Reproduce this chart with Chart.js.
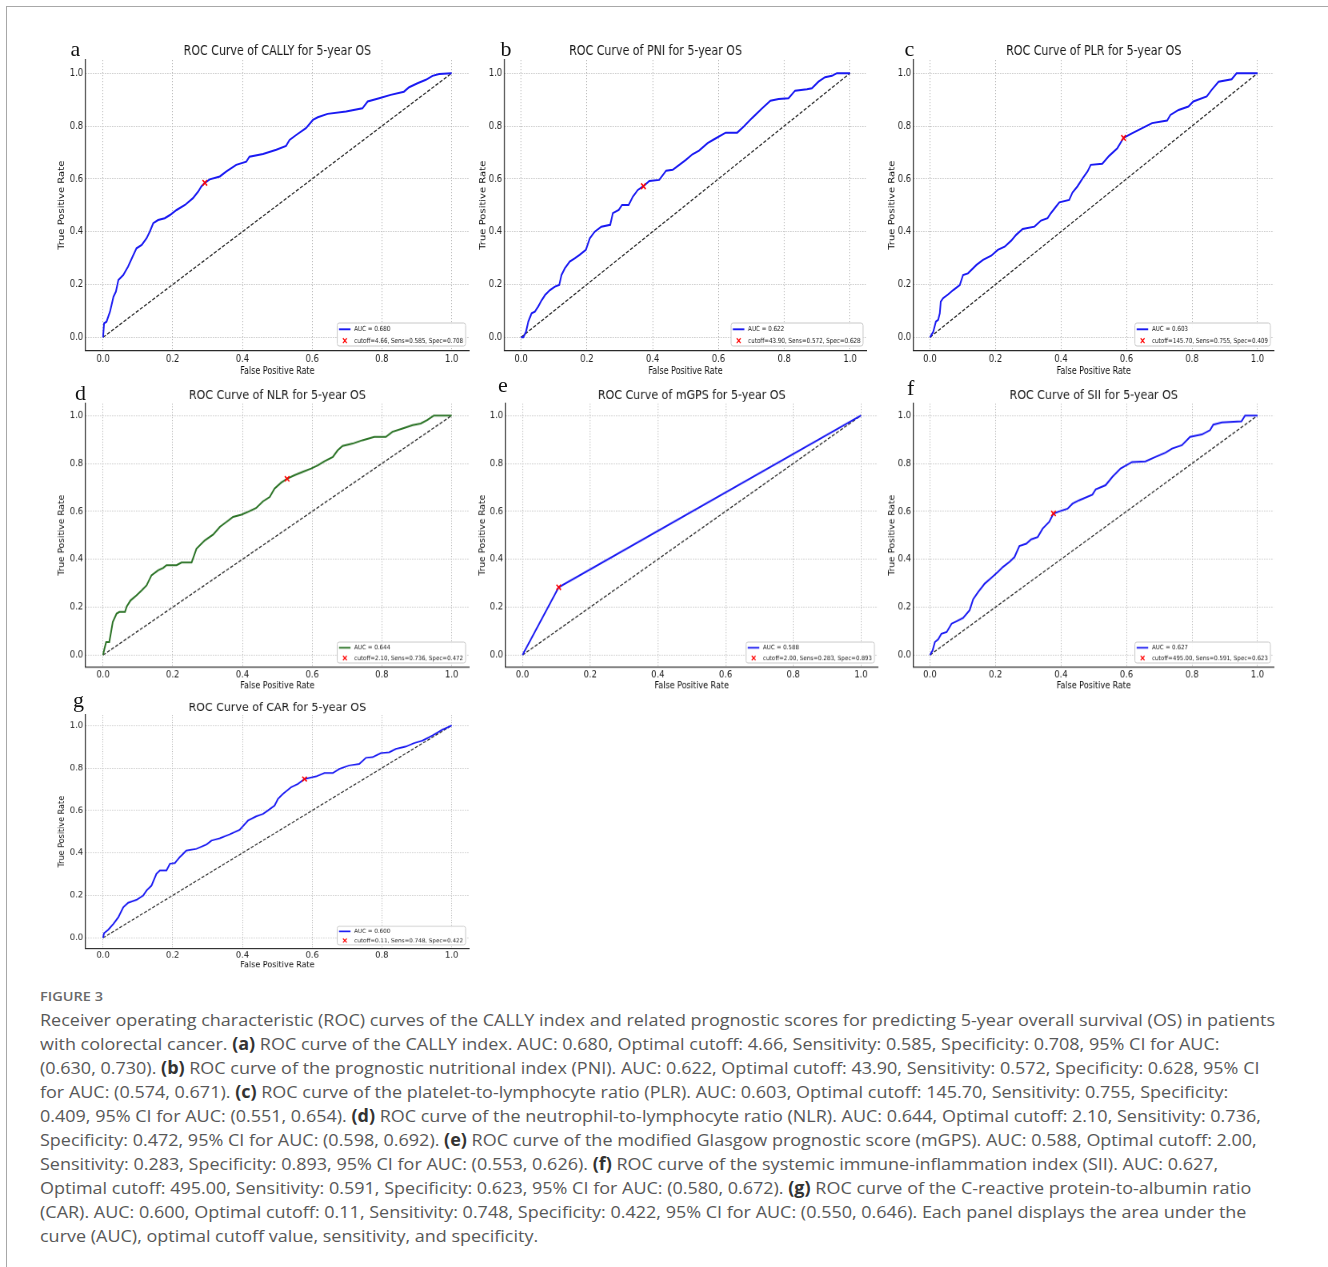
<!DOCTYPE html>
<html>
<head>
<meta charset="utf-8">
<script src="https://cdn.jsdelivr.net/npm/chart.js@4.4.0/dist/chart.umd.min.js"></script>
<style>
html,body{margin:0;padding:0;background:#fff;}
body{width:1328px;height:1267px;position:relative;overflow:hidden;}
#frameTop{position:absolute;left:6px;top:6px;width:1322px;height:0;border-top:1.5px solid #a8a8a8;}
#frameLeft{position:absolute;left:6px;top:6px;width:0;height:1261px;border-left:1.5px solid #a8a8a8;}
.panel{position:absolute;transform-origin:0 0;}
.panel canvas{display:block;}
.letter{position:absolute;font-family:"Liberation Serif","DejaVu Serif",serif;font-size:22px;line-height:22px;color:#111;}
#figlabel{position:absolute;left:40px;top:988px;font-family:"Open Sans",sans-serif;font-size:13px;font-weight:600;color:#6a6a6a;line-height:16px;white-space:nowrap;transform-origin:0 0;}
#caption{position:absolute;left:40px;top:1008px;font-family:"Open Sans",sans-serif;font-size:17px;line-height:24px;color:#585858;transform-origin:0 0;white-space:nowrap;}
#caption b{color:#333;font-weight:700;}
</style>
</head>
<body>
<div id="frameTop"></div>
<div id="frameLeft"></div>
<div id="panels"></div>
<div id="figlabel">FIGURE 3</div>
<div id="caption">
<div id="cap1">Receiver operating characteristic (ROC) curves of the CALLY index and related prognostic scores for predicting 5-year overall survival (OS) in patients</div>
<div>with colorectal cancer. <b>(a)</b> ROC curve of the CALLY index. AUC: 0.680, Optimal cutoff: 4.66, Sensitivity: 0.585, Specificity: 0.708, 95% CI for AUC:</div>
<div>(0.630, 0.730). <b>(b)</b> ROC curve of the prognostic nutritional index (PNI). AUC: 0.622, Optimal cutoff: 43.90, Sensitivity: 0.572, Specificity: 0.628, 95% CI</div>
<div>for AUC: (0.574, 0.671). <b>(c)</b> ROC curve of the platelet-to-lymphocyte ratio (PLR). AUC: 0.603, Optimal cutoff: 145.70, Sensitivity: 0.755, Specificity:</div>
<div>0.409, 95% CI for AUC: (0.551, 0.654). <b>(d)</b> ROC curve of the neutrophil-to-lymphocyte ratio (NLR). AUC: 0.644, Optimal cutoff: 2.10, Sensitivity: 0.736,</div>
<div>Specificity: 0.472, 95% CI for AUC: (0.598, 0.692). <b>(e)</b> ROC curve of the modified Glasgow prognostic score (mGPS). AUC: 0.588, Optimal cutoff: 2.00,</div>
<div>Sensitivity: 0.283, Specificity: 0.893, 95% CI for AUC: (0.553, 0.626). <b>(f)</b> ROC curve of the systemic immune-inflammation index (SII). AUC: 0.627,</div>
<div>Optimal cutoff: 495.00, Sensitivity: 0.591, Specificity: 0.623, 95% CI for AUC: (0.580, 0.672). <b>(g)</b> ROC curve of the C-reactive protein-to-albumin ratio</div>
<div>(CAR). AUC: 0.600, Optimal cutoff: 0.11, Sensitivity: 0.748, Specificity: 0.422, 95% CI for AUC: (0.550, 0.646). Each panel displays the area under the</div>
<div>curve (AUC), optimal cutoff value, sensitivity, and specificity.</div>
</div>
<script>
// ---------------- DATA ----------------
const tickValues = [0, 0.2, 0.4, 0.6, 0.8, 1.0];
const tickLabels = ['0.0', '0.2', '0.4', '0.6', '0.8', '1.0'];

const panelLetters = ['a', 'b', 'c', 'd', 'e', 'f', 'g'];
const titles = [
  'ROC Curve of CALLY for 5-year OS',
  'ROC Curve of PNI for 5-year OS',
  'ROC Curve of PLR for 5-year OS',
  'ROC Curve of NLR for 5-year OS',
  'ROC Curve of mGPS for 5-year OS',
  'ROC Curve of SII for 5-year OS',
  'ROC Curve of CAR for 5-year OS'
];
const aucLabels = ['AUC = 0.680', 'AUC = 0.622', 'AUC = 0.603', 'AUC = 0.644', 'AUC = 0.588', 'AUC = 0.627', 'AUC = 0.600'];
const cutoffLabels = [
  'cutoff=4.66, Sens=0.585, Spec=0.708',
  'cutoff=43.90, Sens=0.572, Spec=0.628',
  'cutoff=145.70, Sens=0.755, Spec=0.409',
  'cutoff=2.10, Sens=0.736, Spec=0.472',
  'cutoff=2.00, Sens=0.283, Spec=0.893',
  'cutoff=495.00, Sens=0.591, Spec=0.623',
  'cutoff=0.11, Sens=0.748, Spec=0.422'
];
const cutoffFpr = [0.292, 0.372, 0.591, 0.528, 0.107, 0.377, 0.578];
const cutoffTpr = [0.585, 0.572, 0.755, 0.736, 0.283, 0.591, 0.748];

const chanceX = [0, 1];
const chanceY = [0, 1];

const callyFpr = [0, 0.003, 0.010, 0.020, 0.030, 0.037, 0.044, 0.058, 0.072, 0.085, 0.096, 0.111, 0.125, 0.134, 0.144, 0.158, 0.177, 0.192, 0.211, 0.235, 0.258, 0.273, 0.282, 0.292, 0.306, 0.335, 0.354, 0.382, 0.411, 0.420, 0.459, 0.497, 0.525, 0.535, 0.554, 0.582, 0.602, 0.616, 0.644, 0.697, 0.744, 0.759, 0.792, 0.825, 0.863, 0.878, 0.902, 0.926, 0.945, 0.964, 1.0];
const callyTpr = [0, 0.053, 0.059, 0.097, 0.154, 0.173, 0.217, 0.236, 0.268, 0.306, 0.337, 0.350, 0.375, 0.400, 0.432, 0.444, 0.451, 0.463, 0.482, 0.501, 0.527, 0.552, 0.571, 0.585, 0.598, 0.609, 0.628, 0.653, 0.665, 0.684, 0.694, 0.710, 0.725, 0.747, 0.766, 0.792, 0.823, 0.833, 0.846, 0.855, 0.867, 0.893, 0.905, 0.918, 0.930, 0.947, 0.962, 0.975, 0.990, 0.997, 1.0];

const pniFpr = [0, 0.007, 0.015, 0.022, 0.032, 0.042, 0.052, 0.063, 0.073, 0.088, 0.103, 0.116, 0.123, 0.133, 0.148, 0.163, 0.178, 0.197, 0.209, 0.224, 0.244, 0.271, 0.279, 0.297, 0.307, 0.327, 0.340, 0.355, 0.372, 0.390, 0.420, 0.441, 0.461, 0.481, 0.501, 0.521, 0.541, 0.567, 0.587, 0.622, 0.657, 0.677, 0.702, 0.733, 0.758, 0.783, 0.813, 0.833, 0.869, 0.884, 0.904, 0.924, 0.945, 0.960, 1.0];
const pniTpr = [0, 0, 0.021, 0.059, 0.091, 0.097, 0.116, 0.141, 0.160, 0.179, 0.192, 0.198, 0.236, 0.261, 0.287, 0.299, 0.312, 0.331, 0.375, 0.400, 0.419, 0.426, 0.470, 0.482, 0.501, 0.501, 0.533, 0.558, 0.572, 0.592, 0.596, 0.631, 0.634, 0.653, 0.672, 0.693, 0.707, 0.735, 0.750, 0.775, 0.775, 0.798, 0.830, 0.867, 0.896, 0.902, 0.905, 0.934, 0.939, 0.943, 0.968, 0.985, 0.990, 1.0, 1.0];

const plrFpr = [0, 0.010, 0.018, 0.025, 0.030, 0.033, 0.040, 0.056, 0.071, 0.091, 0.101, 0.116, 0.142, 0.162, 0.187, 0.207, 0.228, 0.248, 0.263, 0.283, 0.319, 0.339, 0.359, 0.369, 0.385, 0.395, 0.425, 0.435, 0.450, 0.466, 0.481, 0.491, 0.526, 0.547, 0.572, 0.587, 0.591, 0.618, 0.648, 0.678, 0.724, 0.734, 0.759, 0.789, 0.804, 0.845, 0.860, 0.881, 0.921, 0.936, 1.0];
const plrTpr = [0, 0.021, 0.059, 0.066, 0.091, 0.135, 0.148, 0.163, 0.179, 0.198, 0.236, 0.242, 0.274, 0.293, 0.309, 0.331, 0.343, 0.366, 0.388, 0.410, 0.419, 0.442, 0.451, 0.470, 0.495, 0.511, 0.520, 0.548, 0.571, 0.602, 0.628, 0.653, 0.657, 0.687, 0.716, 0.747, 0.755, 0.773, 0.792, 0.811, 0.821, 0.842, 0.861, 0.874, 0.893, 0.912, 0.937, 0.968, 0.977, 1.0, 1.0];

const nlrFpr = [0, 0.004, 0.009, 0.018, 0.023, 0.028, 0.039, 0.047, 0.063, 0.068, 0.079, 0.096, 0.111, 0.125, 0.139, 0.158, 0.173, 0.182, 0.211, 0.225, 0.254, 0.268, 0.292, 0.316, 0.335, 0.354, 0.373, 0.397, 0.416, 0.439, 0.459, 0.478, 0.492, 0.511, 0.528, 0.549, 0.573, 0.597, 0.616, 0.635, 0.659, 0.673, 0.687, 0.716, 0.744, 0.778, 0.811, 0.830, 0.859, 0.888, 0.911, 0.930, 0.949, 1.0];
const nlrTpr = [0, 0.026, 0.054, 0.054, 0.096, 0.138, 0.173, 0.180, 0.180, 0.203, 0.228, 0.249, 0.270, 0.291, 0.333, 0.354, 0.364, 0.375, 0.375, 0.386, 0.386, 0.444, 0.479, 0.503, 0.535, 0.556, 0.577, 0.586, 0.598, 0.614, 0.642, 0.660, 0.695, 0.720, 0.736, 0.751, 0.765, 0.779, 0.792, 0.809, 0.827, 0.855, 0.873, 0.883, 0.897, 0.911, 0.911, 0.932, 0.946, 0.960, 0.967, 0.981, 1.0, 1.0];

const mgpsFpr = [0, 0.107, 1.0];
const mgpsTpr = [0, 0.283, 1.0];

const siiFpr = [0, 0.008, 0.015, 0.025, 0.035, 0.051, 0.066, 0.081, 0.101, 0.121, 0.132, 0.147, 0.167, 0.187, 0.207, 0.223, 0.243, 0.258, 0.273, 0.294, 0.309, 0.329, 0.344, 0.364, 0.377, 0.395, 0.420, 0.435, 0.455, 0.496, 0.506, 0.536, 0.557, 0.582, 0.617, 0.658, 0.688, 0.719, 0.739, 0.769, 0.794, 0.830, 0.855, 0.865, 0.891, 0.951, 0.962, 1.0];
const siiTpr = [0, 0.019, 0.054, 0.065, 0.089, 0.096, 0.131, 0.141, 0.155, 0.187, 0.233, 0.263, 0.298, 0.322, 0.347, 0.368, 0.389, 0.409, 0.455, 0.465, 0.483, 0.493, 0.528, 0.556, 0.591, 0.600, 0.611, 0.632, 0.646, 0.670, 0.692, 0.709, 0.744, 0.779, 0.806, 0.809, 0.827, 0.845, 0.862, 0.876, 0.911, 0.921, 0.939, 0.962, 0.971, 0.976, 1.0, 1.0];

const carFpr = [0, 0.003, 0.015, 0.030, 0.044, 0.058, 0.072, 0.096, 0.115, 0.125, 0.139, 0.153, 0.163, 0.182, 0.192, 0.206, 0.220, 0.239, 0.268, 0.297, 0.311, 0.335, 0.363, 0.392, 0.416, 0.439, 0.459, 0.473, 0.492, 0.502, 0.516, 0.540, 0.559, 0.578, 0.611, 0.635, 0.659, 0.678, 0.706, 0.735, 0.754, 0.773, 0.797, 0.821, 0.840, 0.869, 0.892, 0.916, 0.945, 0.973, 1.0];
const carTpr = [0, 0.022, 0.038, 0.066, 0.097, 0.144, 0.165, 0.179, 0.199, 0.223, 0.246, 0.301, 0.317, 0.317, 0.349, 0.352, 0.380, 0.411, 0.419, 0.440, 0.458, 0.469, 0.487, 0.509, 0.553, 0.572, 0.584, 0.600, 0.623, 0.655, 0.678, 0.710, 0.725, 0.748, 0.760, 0.776, 0.776, 0.796, 0.812, 0.819, 0.848, 0.851, 0.870, 0.874, 0.890, 0.901, 0.917, 0.929, 0.953, 0.980, 1.0];

const curvesFpr = [callyFpr, pniFpr, plrFpr, nlrFpr, mgpsFpr, siiFpr, carFpr];
const curvesTpr = [callyTpr, pniTpr, plrTpr, nlrTpr, mgpsTpr, siiTpr, carTpr];
const curveColors = ['#1a1af2', '#1a1af2', '#1a1af2', '#2b7326', '#1a1af2', '#1a1af2', '#1a1af2'];

// ---------------- LAYOUT (pixels on the page) ----------------
const SX = 0.8;  // horizontal squeeze of the panels
const panelsLayout = [
  {cl: 85.5,  cr: 470.5,  ct: 60,    vy: 1,      yGap: 29.1, dx: 0,     lx: 70.5, lb: 56},
  {cl: 504.5, cr: 868,    ct: 60,    vy: 1,      yGap: 26.6, dx: -37.5, lx: 500.5, lb: 56},
  {cl: 913.5, cr: 1275.5, ct: 60,    vy: 1,      yGap: 26.6, dx: 0,     lx: 904.5, lb: 56},
  {cl: 85.5,  cr: 470.5,  ct: 403.3, vy: 0.9067, yGap: 29.1, dx: 0,     lx: 75,   lb: 400},
  {cl: 506,   cr: 879.7,  ct: 403.3, vy: 0.9067, yGap: 28.4, dx: 0,     lx: 498,  lb: 392},
  {cl: 913.5, cr: 1275.5, ct: 403.3, vy: 0.9067, yGap: 26.6, dx: 0,     lx: 907,  lb: 395},
  {cl: 85.5,  cr: 470.5,  ct: 714.4, vy: 0.8038, yGap: 29.1, dx: 0,     lx: 73,   lb: 707}
];
const Y_AXIS_W = 40, X_AXIS_H = 30, PAD_L = 2, PAD_T = 26, AREA_H = 290.5;

const panelTitle = {
  id: 'panelTitle',
  afterDraw(chart, args, o) {
    const {ctx, chartArea: a} = chart;
    ctx.save();
    ctx.font = '13.8px "DejaVu Sans"';
    ctx.fillStyle = '#1a1a1a';
    ctx.textAlign = 'center';
    ctx.textBaseline = 'alphabetic';
    ctx.fillText(o.text, (a.left + a.right) / 2 + (o.dx || 0), a.top - 5);
    ctx.restore();
  }
};

const rocLegend = {
  id: 'rocLegend',
  afterDraw(chart, args, o) {
    const {ctx, chartArea: a} = chart;
    ctx.save();
    ctx.font = '7px "DejaVu Sans"';
    const tw = Math.max(ctx.measureText(o.auc).width, ctx.measureText(o.cutoff).width);
    const w = 21.3 + tw + 3, h = 23;
    const right = a.right - 4.4, bottom = a.bottom - 4.5;
    const left = right - w, top = bottom - h;
    ctx.fillStyle = 'rgba(255,255,255,0.92)';
    ctx.strokeStyle = '#c8c8c8';
    ctx.lineWidth = 1;
    ctx.beginPath();
    if (ctx.roundRect) ctx.roundRect(left, top, w, h, 2.5); else ctx.rect(left, top, w, h);
    ctx.fill(); ctx.stroke();
    const y1 = top + 6.3, y2 = top + 17.7;
    ctx.strokeStyle = o.color; ctx.lineWidth = 1.9;
    ctx.beginPath(); ctx.moveTo(left + 2.2, y1); ctx.lineTo(left + 16.6, y1); ctx.stroke();
    ctx.strokeStyle = '#ff0000'; ctx.lineWidth = 1.3;
    const cx = left + 9.6, r = 2.4;
    ctx.beginPath();
    ctx.moveTo(cx - r, y2 - r); ctx.lineTo(cx + r, y2 + r);
    ctx.moveTo(cx + r, y2 - r); ctx.lineTo(cx - r, y2 + r);
    ctx.stroke();
    ctx.fillStyle = '#1a1a1a'; ctx.textBaseline = 'middle'; ctx.textAlign = 'left';
    ctx.fillText(o.auc, left + 21.3, y1);
    ctx.fillText(o.cutoff, left + 21.3, y2);
    ctx.restore();
  }
};

function toPoints(xs, ys) { return xs.map((x, i) => ({x: x, y: ys[i]})); }

const holder = document.getElementById('panels');
panelsLayout.forEach((p, i) => {
  const areaW = (p.cr - p.cl) / SX;
  const W = Math.ceil(PAD_L + Y_AXIS_W + areaW + 3);
  const padR = W - PAD_L - Y_AXIS_W - areaW;
  const H = 348;
  const padB = H - PAD_T - AREA_H - X_AXIS_H;

  const div = document.createElement('div');
  div.className = 'panel';
  div.style.left = (p.cl - (PAD_L + Y_AXIS_W) * SX) + 'px';
  div.style.top = (p.ct - PAD_T * p.vy) + 'px';
  div.style.transform = 'scale(' + SX + ',' + p.vy + ')';
  const cv = document.createElement('canvas');
  cv.width = W; cv.height = H;
  cv.style.width = W + 'px'; cv.style.height = H + 'px';
  div.appendChild(cv);
  holder.appendChild(div);

  const letter = document.createElement('div');
  letter.className = 'letter';
  letter.textContent = panelLetters[i];
  letter.style.left = p.lx + 'px';
  letter.style.top = (p.lb - 17.7) + 'px';
  document.body.appendChild(letter);

  const tickFont = {family: '"DejaVu Sans"', size: 10.5};
  const axisTitleFont = {family: '"DejaVu Sans"', size: 10};

  new Chart(cv, {
    type: 'scatter',
    data: {
      datasets: [
        {
          label: cutoffLabels[i],
          data: [{x: cutoffFpr[i], y: cutoffTpr[i]}],
          pointStyle: 'crossRot', pointRadius: 4, pointBorderWidth: 1.6,
          borderColor: '#ff0000', backgroundColor: '#ff0000',
          showLine: false, order: 0
        },
        {
          label: aucLabels[i],
          data: toPoints(curvesFpr[i], curvesTpr[i]),
          showLine: true, borderColor: curveColors[i], borderWidth: 2,
          pointRadius: 0, tension: 0, order: 1
        },
        {
          label: 'chance',
          data: toPoints(chanceX, chanceY),
          showLine: true, borderColor: '#2a2a2a', borderWidth: 1.3,
          borderDash: [4, 2], pointRadius: 0, order: 2
        }
      ]
    },
    options: {
      responsive: false, animation: false, devicePixelRatio: 1,
      layout: {padding: {left: PAD_L, right: padR, top: PAD_T, bottom: padB}},
      plugins: {
        legend: {display: false}, tooltip: {enabled: false},
        panelTitle: {text: titles[i], dx: p.dx},
        rocLegend: {auc: aucLabels[i], cutoff: cutoffLabels[i], color: curveColors[i]}
      },
      scales: {
        x: {
          type: 'linear', min: -0.05, max: 1.05,
          afterBuildTicks: (s) => { s.ticks = tickValues.map(v => ({value: v})); },
          afterFit: (s) => { s.height = X_AXIS_H; },
          ticks: {callback: (v, k) => tickLabels[k], font: tickFont, color: '#222', padding: 2, maxRotation: 0, autoSkip: false},
          grid: {color: '#b9b9b9', lineWidth: 1, drawTicks: false},
          border: {display: true, color: '#2a2a2a', width: 1.3, dash: [1.2, 1.8]},
          title: {display: true, text: 'False Positive Rate', font: axisTitleFont, color: '#111', padding: {top: 0, bottom: 3}}
        },
        y: {
          type: 'linear', min: -0.05, max: 1.05,
          afterBuildTicks: (s) => { s.ticks = tickValues.map(v => ({value: v})); },
          afterFit: (s) => { s.width = Y_AXIS_W; },
          ticks: {callback: (v, k) => tickLabels[k], font: tickFont, color: '#222', padding: 3, autoSkip: false},
          grid: {color: '#b9b9b9', lineWidth: 1, drawTicks: false},
          border: {display: true, color: '#2a2a2a', width: 1.3, dash: [1.2, 1.8]},
          title: {display: true, text: 'True Positive Rate', font: axisTitleFont, color: '#111', padding: {top: Y_AXIS_W - p.yGap - 6, bottom: 0}}
        }
      }
    },
    plugins: [panelTitle, rocLegend]
  });
});

// fit caption width to reference
(function () {
  const cap = document.getElementById('caption');
  const w1 = document.getElementById('cap1').getBoundingClientRect().width;
  cap.style.transform = 'scaleX(' + (1235 / w1) + ')';
  const fl = document.getElementById('figlabel');
  const span = document.createElement('span');
  span.textContent = fl.textContent;
  fl.textContent = '';
  fl.appendChild(span);
  const ws = span.getBoundingClientRect().width;
  fl.style.transform = 'scaleX(' + (63 / ws) + ')';
})();
</script>
</body>
</html>
